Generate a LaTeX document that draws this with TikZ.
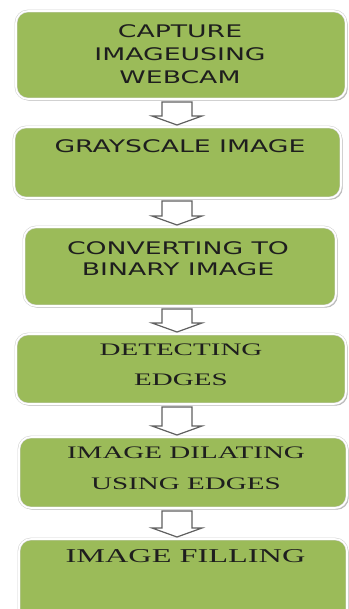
\documentclass[tikz,border=0pt]{standalone}
\usepackage{fontspec}
\usetikzlibrary{calc,fit,shadows}
\newfontfamily\gothicwide[FakeStretch=1.54]{DejaVu Sans}
\newfontfamily\romanwide[FakeStretch=1.65]{Liberation Serif}
\definecolor{boxgreen}{HTML}{9BBB59}
\definecolor{inkdark}{HTML}{1E1E1E}

\begin{document}
\begin{tikzpicture}[x=0.75pt, y=-0.75pt,
    stepbox/.style={inner sep=0pt, outer sep=0pt, rounded corners=9pt,
        fill=boxgreen, draw=gray!35, double=white, double distance=1.2pt, line width=0.4pt,
        drop shadow={shadow xshift=1.3pt, shadow yshift=-1.3pt, fill=gray!55, opacity=1}},
    steplbl/.style={align=center, text=inkdark, inner sep=0pt},
    hollowarrow/.style={draw=gray!75!black, fill=white, line width=0.9pt, line join=miter,
        to path={($(ax |- \tikztostart.south)+(-15,3)$) -- ($(ax |- \tikztotarget.north)+(-15,-11)$)
            -- ++(-10,0) -- ($(ax |- \tikztotarget.north)+(0,-2)$) -- ($(ax |- \tikztotarget.north)+(25,-11)$)
            -- ++(-10,0) -- ($(ax |- \tikztostart.south)+(15,3)$) -- cycle}}]
    % 画布范围：白色背景，与原图同样大小
    \path[use as bounding box, fill=white] (0,0) rectangle (349,609);
    \clip (0,0) rectangle (349,609);
    % 箭头所在的竖直中线
    \coordinate (ax) at (177,0);

    % 六个步骤框：绿色圆角矩形
    \node[stepbox, fit={(16,11) (346,99)}] (capture) {};
    \node[stepbox, fit={(14,127) (341,198)}] (gray) {};
    \node[stepbox, fit={(24,227) (336,306)}] (binary) {};
    \node[stepbox, fit={(16,334) (346,404)}] (edges) {};
    \node[stepbox, fit={(19,437) (347,508)}] (dilate) {};
    \node[stepbox, fit={(19,539) (347,640)}] (filling) {};

    % 框内文字：前三步为无衬线体，后三步为衬线体
    \node[steplbl, font=\gothicwide\fontsize{13}{17.25}\selectfont] (capturetxt) at (180,54) {CAPTURE\\IMAGEUSING\\WEBCAM};
    \node[steplbl, font=\gothicwide\fontsize{13}{17}\selectfont] (graytxt) at (180,146) {GRAYSCALE IMAGE};
    \node[steplbl, font=\gothicwide\fontsize{13}{15.75}\selectfont] (binarytxt) at (178,258.5) {CONVERTING TO\\BINARY IMAGE};
    \node[steplbl, font=\romanwide\fontsize{13.2}{22.5}\selectfont] (edgestxt) at (181,364.5) {DETECTING\\EDGES};
    \node[steplbl, font=\romanwide\fontsize{13.2}{23.6}\selectfont] (dilatetxt) at (186,468) {IMAGE DILATING\\USING EDGES};
    \node[steplbl, font=\romanwide\fontsize{14.7}{18}\selectfont] (fillingtxt) at (185.5,556.5) {IMAGE FILLING};

    % 空心箭头：连接相邻步骤
    \draw[hollowarrow] (capture) to (gray);
    \draw[hollowarrow] (gray) to (binary);
    \draw[hollowarrow] (binary) to (edges);
    \draw[hollowarrow] (edges) to (dilate);
    \draw[hollowarrow] (dilate) to (filling);
\end{tikzpicture}
\end{document}
